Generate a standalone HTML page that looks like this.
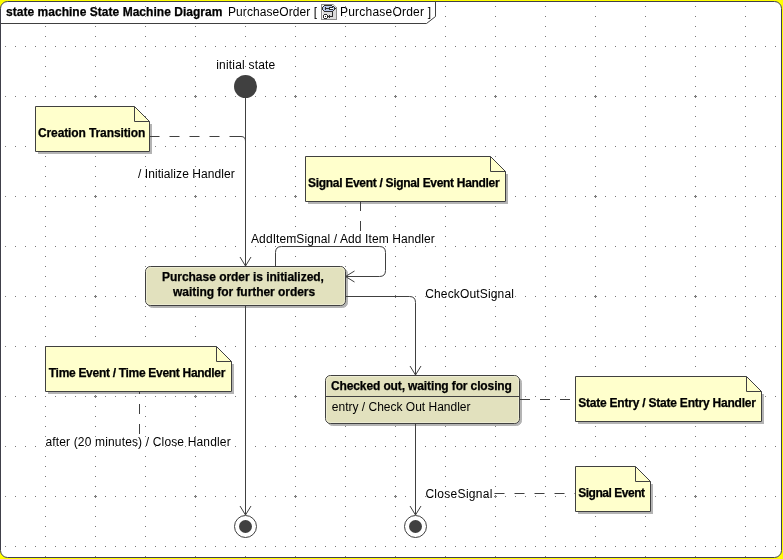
<!DOCTYPE html><html><head><meta charset="utf-8"><style>html,body{margin:0;padding:0;background:#FFFF00;}svg{display:block;will-change:transform}text{font-family:"Liberation Sans",sans-serif;font-size:12px;fill:#000}text[font-weight]{stroke:#000;stroke-width:0.25}</style></head><body><svg width="783" height="559" viewBox="0 0 783 559"><path d="M0.5,8.5A7,7 0 0 1 7.5,1.5H774.5A7,7 0 0 1 781.5,8.5V550.5A7,7 0 0 1 774.5,557.5H7.5A7,7 0 0 1 0.5,550.5Z" fill="#fff" stroke="#40404a"/><path d="M5,46h1v1h-1zM5,96h1v1h-1zM5,146h1v1h-1zM5,196h1v1h-1zM5,246h1v1h-1zM5,296h1v1h-1zM5,346h1v1h-1zM5,396h1v1h-1zM5,446h1v1h-1zM5,496h1v1h-1zM5,546h1v1h-1zM15,46h1v1h-1zM15,96h1v1h-1zM15,146h1v1h-1zM15,196h1v1h-1zM15,246h1v1h-1zM15,296h1v1h-1zM15,346h1v1h-1zM15,396h1v1h-1zM15,446h1v1h-1zM15,496h1v1h-1zM15,546h1v1h-1zM25,46h1v1h-1zM25,96h1v1h-1zM25,146h1v1h-1zM25,196h1v1h-1zM25,246h1v1h-1zM25,296h1v1h-1zM25,346h1v1h-1zM25,396h1v1h-1zM25,446h1v1h-1zM25,496h1v1h-1zM25,546h1v1h-1zM35,46h1v1h-1zM35,96h1v1h-1zM35,146h1v1h-1zM35,196h1v1h-1zM35,246h1v1h-1zM35,296h1v1h-1zM35,346h1v1h-1zM35,396h1v1h-1zM35,446h1v1h-1zM35,496h1v1h-1zM35,546h1v1h-1zM45,6h1v1h-1zM45,16h1v1h-1zM45,26h1v1h-1zM45,36h1v1h-1zM45,46h1v1h-1zM45,56h1v1h-1zM45,66h1v1h-1zM45,76h1v1h-1zM45,86h1v1h-1zM45,96h1v1h-1zM45,106h1v1h-1zM45,116h1v1h-1zM45,126h1v1h-1zM45,136h1v1h-1zM45,146h1v1h-1zM45,156h1v1h-1zM45,166h1v1h-1zM45,176h1v1h-1zM45,186h1v1h-1zM45,196h1v1h-1zM45,206h1v1h-1zM45,216h1v1h-1zM45,226h1v1h-1zM45,236h1v1h-1zM45,246h1v1h-1zM45,256h1v1h-1zM45,266h1v1h-1zM45,276h1v1h-1zM45,286h1v1h-1zM45,296h1v1h-1zM45,306h1v1h-1zM45,316h1v1h-1zM45,326h1v1h-1zM45,336h1v1h-1zM45,346h1v1h-1zM45,356h1v1h-1zM45,366h1v1h-1zM45,376h1v1h-1zM45,386h1v1h-1zM45,396h1v1h-1zM45,406h1v1h-1zM45,416h1v1h-1zM45,426h1v1h-1zM45,436h1v1h-1zM45,446h1v1h-1zM45,456h1v1h-1zM45,466h1v1h-1zM45,476h1v1h-1zM45,486h1v1h-1zM45,496h1v1h-1zM45,506h1v1h-1zM45,516h1v1h-1zM45,526h1v1h-1zM45,536h1v1h-1zM45,546h1v1h-1zM45,556h1v1h-1zM55,46h1v1h-1zM55,96h1v1h-1zM55,146h1v1h-1zM55,196h1v1h-1zM55,246h1v1h-1zM55,296h1v1h-1zM55,346h1v1h-1zM55,396h1v1h-1zM55,446h1v1h-1zM55,496h1v1h-1zM55,546h1v1h-1zM65,46h1v1h-1zM65,96h1v1h-1zM65,146h1v1h-1zM65,196h1v1h-1zM65,246h1v1h-1zM65,296h1v1h-1zM65,346h1v1h-1zM65,396h1v1h-1zM65,446h1v1h-1zM65,496h1v1h-1zM65,546h1v1h-1zM75,46h1v1h-1zM75,96h1v1h-1zM75,146h1v1h-1zM75,196h1v1h-1zM75,246h1v1h-1zM75,296h1v1h-1zM75,346h1v1h-1zM75,396h1v1h-1zM75,446h1v1h-1zM75,496h1v1h-1zM75,546h1v1h-1zM85,46h1v1h-1zM85,96h1v1h-1zM85,146h1v1h-1zM85,196h1v1h-1zM85,246h1v1h-1zM85,296h1v1h-1zM85,346h1v1h-1zM85,396h1v1h-1zM85,446h1v1h-1zM85,496h1v1h-1zM85,546h1v1h-1zM94,96h1v1h-1zM94,196h1v1h-1zM94,296h1v1h-1zM94,396h1v1h-1zM94,496h1v1h-1zM95,6h1v1h-1zM95,16h1v1h-1zM95,26h1v1h-1zM95,36h1v1h-1zM95,46h1v1h-1zM95,56h1v1h-1zM95,66h1v1h-1zM95,76h1v1h-1zM95,86h1v1h-1zM95,95h1v1h-1zM95,96h1v1h-1zM95,97h1v1h-1zM95,106h1v1h-1zM95,116h1v1h-1zM95,126h1v1h-1zM95,136h1v1h-1zM95,146h1v1h-1zM95,156h1v1h-1zM95,166h1v1h-1zM95,176h1v1h-1zM95,186h1v1h-1zM95,195h1v1h-1zM95,196h1v1h-1zM95,197h1v1h-1zM95,206h1v1h-1zM95,216h1v1h-1zM95,226h1v1h-1zM95,236h1v1h-1zM95,246h1v1h-1zM95,256h1v1h-1zM95,266h1v1h-1zM95,276h1v1h-1zM95,286h1v1h-1zM95,295h1v1h-1zM95,296h1v1h-1zM95,297h1v1h-1zM95,306h1v1h-1zM95,316h1v1h-1zM95,326h1v1h-1zM95,336h1v1h-1zM95,346h1v1h-1zM95,356h1v1h-1zM95,366h1v1h-1zM95,376h1v1h-1zM95,386h1v1h-1zM95,395h1v1h-1zM95,396h1v1h-1zM95,397h1v1h-1zM95,406h1v1h-1zM95,416h1v1h-1zM95,426h1v1h-1zM95,436h1v1h-1zM95,446h1v1h-1zM95,456h1v1h-1zM95,466h1v1h-1zM95,476h1v1h-1zM95,486h1v1h-1zM95,495h1v1h-1zM95,496h1v1h-1zM95,497h1v1h-1zM95,506h1v1h-1zM95,516h1v1h-1zM95,526h1v1h-1zM95,536h1v1h-1zM95,546h1v1h-1zM95,556h1v1h-1zM96,96h1v1h-1zM96,196h1v1h-1zM96,296h1v1h-1zM96,396h1v1h-1zM96,496h1v1h-1zM105,46h1v1h-1zM105,96h1v1h-1zM105,146h1v1h-1zM105,196h1v1h-1zM105,246h1v1h-1zM105,296h1v1h-1zM105,346h1v1h-1zM105,396h1v1h-1zM105,446h1v1h-1zM105,496h1v1h-1zM105,546h1v1h-1zM115,46h1v1h-1zM115,96h1v1h-1zM115,146h1v1h-1zM115,196h1v1h-1zM115,246h1v1h-1zM115,296h1v1h-1zM115,346h1v1h-1zM115,396h1v1h-1zM115,446h1v1h-1zM115,496h1v1h-1zM115,546h1v1h-1zM125,46h1v1h-1zM125,96h1v1h-1zM125,146h1v1h-1zM125,196h1v1h-1zM125,246h1v1h-1zM125,296h1v1h-1zM125,346h1v1h-1zM125,396h1v1h-1zM125,446h1v1h-1zM125,496h1v1h-1zM125,546h1v1h-1zM135,46h1v1h-1zM135,96h1v1h-1zM135,146h1v1h-1zM135,196h1v1h-1zM135,246h1v1h-1zM135,296h1v1h-1zM135,346h1v1h-1zM135,396h1v1h-1zM135,446h1v1h-1zM135,496h1v1h-1zM135,546h1v1h-1zM145,6h1v1h-1zM145,16h1v1h-1zM145,26h1v1h-1zM145,36h1v1h-1zM145,46h1v1h-1zM145,56h1v1h-1zM145,66h1v1h-1zM145,76h1v1h-1zM145,86h1v1h-1zM145,96h1v1h-1zM145,106h1v1h-1zM145,116h1v1h-1zM145,126h1v1h-1zM145,136h1v1h-1zM145,146h1v1h-1zM145,156h1v1h-1zM145,166h1v1h-1zM145,176h1v1h-1zM145,186h1v1h-1zM145,196h1v1h-1zM145,206h1v1h-1zM145,216h1v1h-1zM145,226h1v1h-1zM145,236h1v1h-1zM145,246h1v1h-1zM145,256h1v1h-1zM145,266h1v1h-1zM145,276h1v1h-1zM145,286h1v1h-1zM145,296h1v1h-1zM145,306h1v1h-1zM145,316h1v1h-1zM145,326h1v1h-1zM145,336h1v1h-1zM145,346h1v1h-1zM145,356h1v1h-1zM145,366h1v1h-1zM145,376h1v1h-1zM145,386h1v1h-1zM145,396h1v1h-1zM145,406h1v1h-1zM145,416h1v1h-1zM145,426h1v1h-1zM145,436h1v1h-1zM145,446h1v1h-1zM145,456h1v1h-1zM145,466h1v1h-1zM145,476h1v1h-1zM145,486h1v1h-1zM145,496h1v1h-1zM145,506h1v1h-1zM145,516h1v1h-1zM145,526h1v1h-1zM145,536h1v1h-1zM145,546h1v1h-1zM145,556h1v1h-1zM155,46h1v1h-1zM155,96h1v1h-1zM155,146h1v1h-1zM155,196h1v1h-1zM155,246h1v1h-1zM155,296h1v1h-1zM155,346h1v1h-1zM155,396h1v1h-1zM155,446h1v1h-1zM155,496h1v1h-1zM155,546h1v1h-1zM165,46h1v1h-1zM165,96h1v1h-1zM165,146h1v1h-1zM165,196h1v1h-1zM165,246h1v1h-1zM165,296h1v1h-1zM165,346h1v1h-1zM165,396h1v1h-1zM165,446h1v1h-1zM165,496h1v1h-1zM165,546h1v1h-1zM175,46h1v1h-1zM175,96h1v1h-1zM175,146h1v1h-1zM175,196h1v1h-1zM175,246h1v1h-1zM175,296h1v1h-1zM175,346h1v1h-1zM175,396h1v1h-1zM175,446h1v1h-1zM175,496h1v1h-1zM175,546h1v1h-1zM185,46h1v1h-1zM185,96h1v1h-1zM185,146h1v1h-1zM185,196h1v1h-1zM185,246h1v1h-1zM185,296h1v1h-1zM185,346h1v1h-1zM185,396h1v1h-1zM185,446h1v1h-1zM185,496h1v1h-1zM185,546h1v1h-1zM194,96h1v1h-1zM194,196h1v1h-1zM194,296h1v1h-1zM194,396h1v1h-1zM194,496h1v1h-1zM195,6h1v1h-1zM195,16h1v1h-1zM195,26h1v1h-1zM195,36h1v1h-1zM195,46h1v1h-1zM195,56h1v1h-1zM195,66h1v1h-1zM195,76h1v1h-1zM195,86h1v1h-1zM195,95h1v1h-1zM195,96h1v1h-1zM195,97h1v1h-1zM195,106h1v1h-1zM195,116h1v1h-1zM195,126h1v1h-1zM195,136h1v1h-1zM195,146h1v1h-1zM195,156h1v1h-1zM195,166h1v1h-1zM195,176h1v1h-1zM195,186h1v1h-1zM195,195h1v1h-1zM195,196h1v1h-1zM195,197h1v1h-1zM195,206h1v1h-1zM195,216h1v1h-1zM195,226h1v1h-1zM195,236h1v1h-1zM195,246h1v1h-1zM195,256h1v1h-1zM195,266h1v1h-1zM195,276h1v1h-1zM195,286h1v1h-1zM195,295h1v1h-1zM195,296h1v1h-1zM195,297h1v1h-1zM195,306h1v1h-1zM195,316h1v1h-1zM195,326h1v1h-1zM195,336h1v1h-1zM195,346h1v1h-1zM195,356h1v1h-1zM195,366h1v1h-1zM195,376h1v1h-1zM195,386h1v1h-1zM195,395h1v1h-1zM195,396h1v1h-1zM195,397h1v1h-1zM195,406h1v1h-1zM195,416h1v1h-1zM195,426h1v1h-1zM195,436h1v1h-1zM195,446h1v1h-1zM195,456h1v1h-1zM195,466h1v1h-1zM195,476h1v1h-1zM195,486h1v1h-1zM195,495h1v1h-1zM195,496h1v1h-1zM195,497h1v1h-1zM195,506h1v1h-1zM195,516h1v1h-1zM195,526h1v1h-1zM195,536h1v1h-1zM195,546h1v1h-1zM195,556h1v1h-1zM196,96h1v1h-1zM196,196h1v1h-1zM196,296h1v1h-1zM196,396h1v1h-1zM196,496h1v1h-1zM205,46h1v1h-1zM205,96h1v1h-1zM205,146h1v1h-1zM205,196h1v1h-1zM205,246h1v1h-1zM205,296h1v1h-1zM205,346h1v1h-1zM205,396h1v1h-1zM205,446h1v1h-1zM205,496h1v1h-1zM205,546h1v1h-1zM215,46h1v1h-1zM215,96h1v1h-1zM215,146h1v1h-1zM215,196h1v1h-1zM215,246h1v1h-1zM215,296h1v1h-1zM215,346h1v1h-1zM215,396h1v1h-1zM215,446h1v1h-1zM215,496h1v1h-1zM215,546h1v1h-1zM225,46h1v1h-1zM225,96h1v1h-1zM225,146h1v1h-1zM225,196h1v1h-1zM225,246h1v1h-1zM225,296h1v1h-1zM225,346h1v1h-1zM225,396h1v1h-1zM225,446h1v1h-1zM225,496h1v1h-1zM225,546h1v1h-1zM235,46h1v1h-1zM235,96h1v1h-1zM235,146h1v1h-1zM235,196h1v1h-1zM235,246h1v1h-1zM235,296h1v1h-1zM235,346h1v1h-1zM235,396h1v1h-1zM235,446h1v1h-1zM235,496h1v1h-1zM235,546h1v1h-1zM245,6h1v1h-1zM245,16h1v1h-1zM245,26h1v1h-1zM245,36h1v1h-1zM245,46h1v1h-1zM245,56h1v1h-1zM245,66h1v1h-1zM245,76h1v1h-1zM245,86h1v1h-1zM245,96h1v1h-1zM245,106h1v1h-1zM245,116h1v1h-1zM245,126h1v1h-1zM245,136h1v1h-1zM245,146h1v1h-1zM245,156h1v1h-1zM245,166h1v1h-1zM245,176h1v1h-1zM245,186h1v1h-1zM245,196h1v1h-1zM245,206h1v1h-1zM245,216h1v1h-1zM245,226h1v1h-1zM245,236h1v1h-1zM245,246h1v1h-1zM245,256h1v1h-1zM245,266h1v1h-1zM245,276h1v1h-1zM245,286h1v1h-1zM245,296h1v1h-1zM245,306h1v1h-1zM245,316h1v1h-1zM245,326h1v1h-1zM245,336h1v1h-1zM245,346h1v1h-1zM245,356h1v1h-1zM245,366h1v1h-1zM245,376h1v1h-1zM245,386h1v1h-1zM245,396h1v1h-1zM245,406h1v1h-1zM245,416h1v1h-1zM245,426h1v1h-1zM245,436h1v1h-1zM245,446h1v1h-1zM245,456h1v1h-1zM245,466h1v1h-1zM245,476h1v1h-1zM245,486h1v1h-1zM245,496h1v1h-1zM245,506h1v1h-1zM245,516h1v1h-1zM245,526h1v1h-1zM245,536h1v1h-1zM245,546h1v1h-1zM245,556h1v1h-1zM255,46h1v1h-1zM255,96h1v1h-1zM255,146h1v1h-1zM255,196h1v1h-1zM255,246h1v1h-1zM255,296h1v1h-1zM255,346h1v1h-1zM255,396h1v1h-1zM255,446h1v1h-1zM255,496h1v1h-1zM255,546h1v1h-1zM265,46h1v1h-1zM265,96h1v1h-1zM265,146h1v1h-1zM265,196h1v1h-1zM265,246h1v1h-1zM265,296h1v1h-1zM265,346h1v1h-1zM265,396h1v1h-1zM265,446h1v1h-1zM265,496h1v1h-1zM265,546h1v1h-1zM275,46h1v1h-1zM275,96h1v1h-1zM275,146h1v1h-1zM275,196h1v1h-1zM275,246h1v1h-1zM275,296h1v1h-1zM275,346h1v1h-1zM275,396h1v1h-1zM275,446h1v1h-1zM275,496h1v1h-1zM275,546h1v1h-1zM285,46h1v1h-1zM285,96h1v1h-1zM285,146h1v1h-1zM285,196h1v1h-1zM285,246h1v1h-1zM285,296h1v1h-1zM285,346h1v1h-1zM285,396h1v1h-1zM285,446h1v1h-1zM285,496h1v1h-1zM285,546h1v1h-1zM294,96h1v1h-1zM294,196h1v1h-1zM294,296h1v1h-1zM294,396h1v1h-1zM294,496h1v1h-1zM295,6h1v1h-1zM295,16h1v1h-1zM295,26h1v1h-1zM295,36h1v1h-1zM295,46h1v1h-1zM295,56h1v1h-1zM295,66h1v1h-1zM295,76h1v1h-1zM295,86h1v1h-1zM295,95h1v1h-1zM295,96h1v1h-1zM295,97h1v1h-1zM295,106h1v1h-1zM295,116h1v1h-1zM295,126h1v1h-1zM295,136h1v1h-1zM295,146h1v1h-1zM295,156h1v1h-1zM295,166h1v1h-1zM295,176h1v1h-1zM295,186h1v1h-1zM295,195h1v1h-1zM295,196h1v1h-1zM295,197h1v1h-1zM295,206h1v1h-1zM295,216h1v1h-1zM295,226h1v1h-1zM295,236h1v1h-1zM295,246h1v1h-1zM295,256h1v1h-1zM295,266h1v1h-1zM295,276h1v1h-1zM295,286h1v1h-1zM295,295h1v1h-1zM295,296h1v1h-1zM295,297h1v1h-1zM295,306h1v1h-1zM295,316h1v1h-1zM295,326h1v1h-1zM295,336h1v1h-1zM295,346h1v1h-1zM295,356h1v1h-1zM295,366h1v1h-1zM295,376h1v1h-1zM295,386h1v1h-1zM295,395h1v1h-1zM295,396h1v1h-1zM295,397h1v1h-1zM295,406h1v1h-1zM295,416h1v1h-1zM295,426h1v1h-1zM295,436h1v1h-1zM295,446h1v1h-1zM295,456h1v1h-1zM295,466h1v1h-1zM295,476h1v1h-1zM295,486h1v1h-1zM295,495h1v1h-1zM295,496h1v1h-1zM295,497h1v1h-1zM295,506h1v1h-1zM295,516h1v1h-1zM295,526h1v1h-1zM295,536h1v1h-1zM295,546h1v1h-1zM295,556h1v1h-1zM296,96h1v1h-1zM296,196h1v1h-1zM296,296h1v1h-1zM296,396h1v1h-1zM296,496h1v1h-1zM305,46h1v1h-1zM305,96h1v1h-1zM305,146h1v1h-1zM305,196h1v1h-1zM305,246h1v1h-1zM305,296h1v1h-1zM305,346h1v1h-1zM305,396h1v1h-1zM305,446h1v1h-1zM305,496h1v1h-1zM305,546h1v1h-1zM315,46h1v1h-1zM315,96h1v1h-1zM315,146h1v1h-1zM315,196h1v1h-1zM315,246h1v1h-1zM315,296h1v1h-1zM315,346h1v1h-1zM315,396h1v1h-1zM315,446h1v1h-1zM315,496h1v1h-1zM315,546h1v1h-1zM325,46h1v1h-1zM325,96h1v1h-1zM325,146h1v1h-1zM325,196h1v1h-1zM325,246h1v1h-1zM325,296h1v1h-1zM325,346h1v1h-1zM325,396h1v1h-1zM325,446h1v1h-1zM325,496h1v1h-1zM325,546h1v1h-1zM335,46h1v1h-1zM335,96h1v1h-1zM335,146h1v1h-1zM335,196h1v1h-1zM335,246h1v1h-1zM335,296h1v1h-1zM335,346h1v1h-1zM335,396h1v1h-1zM335,446h1v1h-1zM335,496h1v1h-1zM335,546h1v1h-1zM345,6h1v1h-1zM345,16h1v1h-1zM345,26h1v1h-1zM345,36h1v1h-1zM345,46h1v1h-1zM345,56h1v1h-1zM345,66h1v1h-1zM345,76h1v1h-1zM345,86h1v1h-1zM345,96h1v1h-1zM345,106h1v1h-1zM345,116h1v1h-1zM345,126h1v1h-1zM345,136h1v1h-1zM345,146h1v1h-1zM345,156h1v1h-1zM345,166h1v1h-1zM345,176h1v1h-1zM345,186h1v1h-1zM345,196h1v1h-1zM345,206h1v1h-1zM345,216h1v1h-1zM345,226h1v1h-1zM345,236h1v1h-1zM345,246h1v1h-1zM345,256h1v1h-1zM345,266h1v1h-1zM345,276h1v1h-1zM345,286h1v1h-1zM345,296h1v1h-1zM345,306h1v1h-1zM345,316h1v1h-1zM345,326h1v1h-1zM345,336h1v1h-1zM345,346h1v1h-1zM345,356h1v1h-1zM345,366h1v1h-1zM345,376h1v1h-1zM345,386h1v1h-1zM345,396h1v1h-1zM345,406h1v1h-1zM345,416h1v1h-1zM345,426h1v1h-1zM345,436h1v1h-1zM345,446h1v1h-1zM345,456h1v1h-1zM345,466h1v1h-1zM345,476h1v1h-1zM345,486h1v1h-1zM345,496h1v1h-1zM345,506h1v1h-1zM345,516h1v1h-1zM345,526h1v1h-1zM345,536h1v1h-1zM345,546h1v1h-1zM345,556h1v1h-1zM355,46h1v1h-1zM355,96h1v1h-1zM355,146h1v1h-1zM355,196h1v1h-1zM355,246h1v1h-1zM355,296h1v1h-1zM355,346h1v1h-1zM355,396h1v1h-1zM355,446h1v1h-1zM355,496h1v1h-1zM355,546h1v1h-1zM365,46h1v1h-1zM365,96h1v1h-1zM365,146h1v1h-1zM365,196h1v1h-1zM365,246h1v1h-1zM365,296h1v1h-1zM365,346h1v1h-1zM365,396h1v1h-1zM365,446h1v1h-1zM365,496h1v1h-1zM365,546h1v1h-1zM375,46h1v1h-1zM375,96h1v1h-1zM375,146h1v1h-1zM375,196h1v1h-1zM375,246h1v1h-1zM375,296h1v1h-1zM375,346h1v1h-1zM375,396h1v1h-1zM375,446h1v1h-1zM375,496h1v1h-1zM375,546h1v1h-1zM385,46h1v1h-1zM385,96h1v1h-1zM385,146h1v1h-1zM385,196h1v1h-1zM385,246h1v1h-1zM385,296h1v1h-1zM385,346h1v1h-1zM385,396h1v1h-1zM385,446h1v1h-1zM385,496h1v1h-1zM385,546h1v1h-1zM394,96h1v1h-1zM394,196h1v1h-1zM394,296h1v1h-1zM394,396h1v1h-1zM394,496h1v1h-1zM395,6h1v1h-1zM395,16h1v1h-1zM395,26h1v1h-1zM395,36h1v1h-1zM395,46h1v1h-1zM395,56h1v1h-1zM395,66h1v1h-1zM395,76h1v1h-1zM395,86h1v1h-1zM395,95h1v1h-1zM395,96h1v1h-1zM395,97h1v1h-1zM395,106h1v1h-1zM395,116h1v1h-1zM395,126h1v1h-1zM395,136h1v1h-1zM395,146h1v1h-1zM395,156h1v1h-1zM395,166h1v1h-1zM395,176h1v1h-1zM395,186h1v1h-1zM395,195h1v1h-1zM395,196h1v1h-1zM395,197h1v1h-1zM395,206h1v1h-1zM395,216h1v1h-1zM395,226h1v1h-1zM395,236h1v1h-1zM395,246h1v1h-1zM395,256h1v1h-1zM395,266h1v1h-1zM395,276h1v1h-1zM395,286h1v1h-1zM395,295h1v1h-1zM395,296h1v1h-1zM395,297h1v1h-1zM395,306h1v1h-1zM395,316h1v1h-1zM395,326h1v1h-1zM395,336h1v1h-1zM395,346h1v1h-1zM395,356h1v1h-1zM395,366h1v1h-1zM395,376h1v1h-1zM395,386h1v1h-1zM395,395h1v1h-1zM395,396h1v1h-1zM395,397h1v1h-1zM395,406h1v1h-1zM395,416h1v1h-1zM395,426h1v1h-1zM395,436h1v1h-1zM395,446h1v1h-1zM395,456h1v1h-1zM395,466h1v1h-1zM395,476h1v1h-1zM395,486h1v1h-1zM395,495h1v1h-1zM395,496h1v1h-1zM395,497h1v1h-1zM395,506h1v1h-1zM395,516h1v1h-1zM395,526h1v1h-1zM395,536h1v1h-1zM395,546h1v1h-1zM395,556h1v1h-1zM396,96h1v1h-1zM396,196h1v1h-1zM396,296h1v1h-1zM396,396h1v1h-1zM396,496h1v1h-1zM405,46h1v1h-1zM405,96h1v1h-1zM405,146h1v1h-1zM405,196h1v1h-1zM405,246h1v1h-1zM405,296h1v1h-1zM405,346h1v1h-1zM405,396h1v1h-1zM405,446h1v1h-1zM405,496h1v1h-1zM405,546h1v1h-1zM415,46h1v1h-1zM415,96h1v1h-1zM415,146h1v1h-1zM415,196h1v1h-1zM415,246h1v1h-1zM415,296h1v1h-1zM415,346h1v1h-1zM415,396h1v1h-1zM415,446h1v1h-1zM415,496h1v1h-1zM415,546h1v1h-1zM425,46h1v1h-1zM425,96h1v1h-1zM425,146h1v1h-1zM425,196h1v1h-1zM425,246h1v1h-1zM425,296h1v1h-1zM425,346h1v1h-1zM425,396h1v1h-1zM425,446h1v1h-1zM425,496h1v1h-1zM425,546h1v1h-1zM435,46h1v1h-1zM435,96h1v1h-1zM435,146h1v1h-1zM435,196h1v1h-1zM435,246h1v1h-1zM435,296h1v1h-1zM435,346h1v1h-1zM435,396h1v1h-1zM435,446h1v1h-1zM435,496h1v1h-1zM435,546h1v1h-1zM445,6h1v1h-1zM445,16h1v1h-1zM445,26h1v1h-1zM445,36h1v1h-1zM445,46h1v1h-1zM445,56h1v1h-1zM445,66h1v1h-1zM445,76h1v1h-1zM445,86h1v1h-1zM445,96h1v1h-1zM445,106h1v1h-1zM445,116h1v1h-1zM445,126h1v1h-1zM445,136h1v1h-1zM445,146h1v1h-1zM445,156h1v1h-1zM445,166h1v1h-1zM445,176h1v1h-1zM445,186h1v1h-1zM445,196h1v1h-1zM445,206h1v1h-1zM445,216h1v1h-1zM445,226h1v1h-1zM445,236h1v1h-1zM445,246h1v1h-1zM445,256h1v1h-1zM445,266h1v1h-1zM445,276h1v1h-1zM445,286h1v1h-1zM445,296h1v1h-1zM445,306h1v1h-1zM445,316h1v1h-1zM445,326h1v1h-1zM445,336h1v1h-1zM445,346h1v1h-1zM445,356h1v1h-1zM445,366h1v1h-1zM445,376h1v1h-1zM445,386h1v1h-1zM445,396h1v1h-1zM445,406h1v1h-1zM445,416h1v1h-1zM445,426h1v1h-1zM445,436h1v1h-1zM445,446h1v1h-1zM445,456h1v1h-1zM445,466h1v1h-1zM445,476h1v1h-1zM445,486h1v1h-1zM445,496h1v1h-1zM445,506h1v1h-1zM445,516h1v1h-1zM445,526h1v1h-1zM445,536h1v1h-1zM445,546h1v1h-1zM445,556h1v1h-1zM455,46h1v1h-1zM455,96h1v1h-1zM455,146h1v1h-1zM455,196h1v1h-1zM455,246h1v1h-1zM455,296h1v1h-1zM455,346h1v1h-1zM455,396h1v1h-1zM455,446h1v1h-1zM455,496h1v1h-1zM455,546h1v1h-1zM465,46h1v1h-1zM465,96h1v1h-1zM465,146h1v1h-1zM465,196h1v1h-1zM465,246h1v1h-1zM465,296h1v1h-1zM465,346h1v1h-1zM465,396h1v1h-1zM465,446h1v1h-1zM465,496h1v1h-1zM465,546h1v1h-1zM475,46h1v1h-1zM475,96h1v1h-1zM475,146h1v1h-1zM475,196h1v1h-1zM475,246h1v1h-1zM475,296h1v1h-1zM475,346h1v1h-1zM475,396h1v1h-1zM475,446h1v1h-1zM475,496h1v1h-1zM475,546h1v1h-1zM485,46h1v1h-1zM485,96h1v1h-1zM485,146h1v1h-1zM485,196h1v1h-1zM485,246h1v1h-1zM485,296h1v1h-1zM485,346h1v1h-1zM485,396h1v1h-1zM485,446h1v1h-1zM485,496h1v1h-1zM485,546h1v1h-1zM494,96h1v1h-1zM494,196h1v1h-1zM494,296h1v1h-1zM494,396h1v1h-1zM494,496h1v1h-1zM495,6h1v1h-1zM495,16h1v1h-1zM495,26h1v1h-1zM495,36h1v1h-1zM495,46h1v1h-1zM495,56h1v1h-1zM495,66h1v1h-1zM495,76h1v1h-1zM495,86h1v1h-1zM495,95h1v1h-1zM495,96h1v1h-1zM495,97h1v1h-1zM495,106h1v1h-1zM495,116h1v1h-1zM495,126h1v1h-1zM495,136h1v1h-1zM495,146h1v1h-1zM495,156h1v1h-1zM495,166h1v1h-1zM495,176h1v1h-1zM495,186h1v1h-1zM495,195h1v1h-1zM495,196h1v1h-1zM495,197h1v1h-1zM495,206h1v1h-1zM495,216h1v1h-1zM495,226h1v1h-1zM495,236h1v1h-1zM495,246h1v1h-1zM495,256h1v1h-1zM495,266h1v1h-1zM495,276h1v1h-1zM495,286h1v1h-1zM495,295h1v1h-1zM495,296h1v1h-1zM495,297h1v1h-1zM495,306h1v1h-1zM495,316h1v1h-1zM495,326h1v1h-1zM495,336h1v1h-1zM495,346h1v1h-1zM495,356h1v1h-1zM495,366h1v1h-1zM495,376h1v1h-1zM495,386h1v1h-1zM495,395h1v1h-1zM495,396h1v1h-1zM495,397h1v1h-1zM495,406h1v1h-1zM495,416h1v1h-1zM495,426h1v1h-1zM495,436h1v1h-1zM495,446h1v1h-1zM495,456h1v1h-1zM495,466h1v1h-1zM495,476h1v1h-1zM495,486h1v1h-1zM495,495h1v1h-1zM495,496h1v1h-1zM495,497h1v1h-1zM495,506h1v1h-1zM495,516h1v1h-1zM495,526h1v1h-1zM495,536h1v1h-1zM495,546h1v1h-1zM495,556h1v1h-1zM496,96h1v1h-1zM496,196h1v1h-1zM496,296h1v1h-1zM496,396h1v1h-1zM496,496h1v1h-1zM505,46h1v1h-1zM505,96h1v1h-1zM505,146h1v1h-1zM505,196h1v1h-1zM505,246h1v1h-1zM505,296h1v1h-1zM505,346h1v1h-1zM505,396h1v1h-1zM505,446h1v1h-1zM505,496h1v1h-1zM505,546h1v1h-1zM515,46h1v1h-1zM515,96h1v1h-1zM515,146h1v1h-1zM515,196h1v1h-1zM515,246h1v1h-1zM515,296h1v1h-1zM515,346h1v1h-1zM515,396h1v1h-1zM515,446h1v1h-1zM515,496h1v1h-1zM515,546h1v1h-1zM525,46h1v1h-1zM525,96h1v1h-1zM525,146h1v1h-1zM525,196h1v1h-1zM525,246h1v1h-1zM525,296h1v1h-1zM525,346h1v1h-1zM525,396h1v1h-1zM525,446h1v1h-1zM525,496h1v1h-1zM525,546h1v1h-1zM535,46h1v1h-1zM535,96h1v1h-1zM535,146h1v1h-1zM535,196h1v1h-1zM535,246h1v1h-1zM535,296h1v1h-1zM535,346h1v1h-1zM535,396h1v1h-1zM535,446h1v1h-1zM535,496h1v1h-1zM535,546h1v1h-1zM545,6h1v1h-1zM545,16h1v1h-1zM545,26h1v1h-1zM545,36h1v1h-1zM545,46h1v1h-1zM545,56h1v1h-1zM545,66h1v1h-1zM545,76h1v1h-1zM545,86h1v1h-1zM545,96h1v1h-1zM545,106h1v1h-1zM545,116h1v1h-1zM545,126h1v1h-1zM545,136h1v1h-1zM545,146h1v1h-1zM545,156h1v1h-1zM545,166h1v1h-1zM545,176h1v1h-1zM545,186h1v1h-1zM545,196h1v1h-1zM545,206h1v1h-1zM545,216h1v1h-1zM545,226h1v1h-1zM545,236h1v1h-1zM545,246h1v1h-1zM545,256h1v1h-1zM545,266h1v1h-1zM545,276h1v1h-1zM545,286h1v1h-1zM545,296h1v1h-1zM545,306h1v1h-1zM545,316h1v1h-1zM545,326h1v1h-1zM545,336h1v1h-1zM545,346h1v1h-1zM545,356h1v1h-1zM545,366h1v1h-1zM545,376h1v1h-1zM545,386h1v1h-1zM545,396h1v1h-1zM545,406h1v1h-1zM545,416h1v1h-1zM545,426h1v1h-1zM545,436h1v1h-1zM545,446h1v1h-1zM545,456h1v1h-1zM545,466h1v1h-1zM545,476h1v1h-1zM545,486h1v1h-1zM545,496h1v1h-1zM545,506h1v1h-1zM545,516h1v1h-1zM545,526h1v1h-1zM545,536h1v1h-1zM545,546h1v1h-1zM545,556h1v1h-1zM555,46h1v1h-1zM555,96h1v1h-1zM555,146h1v1h-1zM555,196h1v1h-1zM555,246h1v1h-1zM555,296h1v1h-1zM555,346h1v1h-1zM555,396h1v1h-1zM555,446h1v1h-1zM555,496h1v1h-1zM555,546h1v1h-1zM565,46h1v1h-1zM565,96h1v1h-1zM565,146h1v1h-1zM565,196h1v1h-1zM565,246h1v1h-1zM565,296h1v1h-1zM565,346h1v1h-1zM565,396h1v1h-1zM565,446h1v1h-1zM565,496h1v1h-1zM565,546h1v1h-1zM575,46h1v1h-1zM575,96h1v1h-1zM575,146h1v1h-1zM575,196h1v1h-1zM575,246h1v1h-1zM575,296h1v1h-1zM575,346h1v1h-1zM575,396h1v1h-1zM575,446h1v1h-1zM575,496h1v1h-1zM575,546h1v1h-1zM585,46h1v1h-1zM585,96h1v1h-1zM585,146h1v1h-1zM585,196h1v1h-1zM585,246h1v1h-1zM585,296h1v1h-1zM585,346h1v1h-1zM585,396h1v1h-1zM585,446h1v1h-1zM585,496h1v1h-1zM585,546h1v1h-1zM594,96h1v1h-1zM594,196h1v1h-1zM594,296h1v1h-1zM594,396h1v1h-1zM594,496h1v1h-1zM595,6h1v1h-1zM595,16h1v1h-1zM595,26h1v1h-1zM595,36h1v1h-1zM595,46h1v1h-1zM595,56h1v1h-1zM595,66h1v1h-1zM595,76h1v1h-1zM595,86h1v1h-1zM595,95h1v1h-1zM595,96h1v1h-1zM595,97h1v1h-1zM595,106h1v1h-1zM595,116h1v1h-1zM595,126h1v1h-1zM595,136h1v1h-1zM595,146h1v1h-1zM595,156h1v1h-1zM595,166h1v1h-1zM595,176h1v1h-1zM595,186h1v1h-1zM595,195h1v1h-1zM595,196h1v1h-1zM595,197h1v1h-1zM595,206h1v1h-1zM595,216h1v1h-1zM595,226h1v1h-1zM595,236h1v1h-1zM595,246h1v1h-1zM595,256h1v1h-1zM595,266h1v1h-1zM595,276h1v1h-1zM595,286h1v1h-1zM595,295h1v1h-1zM595,296h1v1h-1zM595,297h1v1h-1zM595,306h1v1h-1zM595,316h1v1h-1zM595,326h1v1h-1zM595,336h1v1h-1zM595,346h1v1h-1zM595,356h1v1h-1zM595,366h1v1h-1zM595,376h1v1h-1zM595,386h1v1h-1zM595,395h1v1h-1zM595,396h1v1h-1zM595,397h1v1h-1zM595,406h1v1h-1zM595,416h1v1h-1zM595,426h1v1h-1zM595,436h1v1h-1zM595,446h1v1h-1zM595,456h1v1h-1zM595,466h1v1h-1zM595,476h1v1h-1zM595,486h1v1h-1zM595,495h1v1h-1zM595,496h1v1h-1zM595,497h1v1h-1zM595,506h1v1h-1zM595,516h1v1h-1zM595,526h1v1h-1zM595,536h1v1h-1zM595,546h1v1h-1zM595,556h1v1h-1zM596,96h1v1h-1zM596,196h1v1h-1zM596,296h1v1h-1zM596,396h1v1h-1zM596,496h1v1h-1zM605,46h1v1h-1zM605,96h1v1h-1zM605,146h1v1h-1zM605,196h1v1h-1zM605,246h1v1h-1zM605,296h1v1h-1zM605,346h1v1h-1zM605,396h1v1h-1zM605,446h1v1h-1zM605,496h1v1h-1zM605,546h1v1h-1zM615,46h1v1h-1zM615,96h1v1h-1zM615,146h1v1h-1zM615,196h1v1h-1zM615,246h1v1h-1zM615,296h1v1h-1zM615,346h1v1h-1zM615,396h1v1h-1zM615,446h1v1h-1zM615,496h1v1h-1zM615,546h1v1h-1zM625,46h1v1h-1zM625,96h1v1h-1zM625,146h1v1h-1zM625,196h1v1h-1zM625,246h1v1h-1zM625,296h1v1h-1zM625,346h1v1h-1zM625,396h1v1h-1zM625,446h1v1h-1zM625,496h1v1h-1zM625,546h1v1h-1zM635,46h1v1h-1zM635,96h1v1h-1zM635,146h1v1h-1zM635,196h1v1h-1zM635,246h1v1h-1zM635,296h1v1h-1zM635,346h1v1h-1zM635,396h1v1h-1zM635,446h1v1h-1zM635,496h1v1h-1zM635,546h1v1h-1zM645,6h1v1h-1zM645,16h1v1h-1zM645,26h1v1h-1zM645,36h1v1h-1zM645,46h1v1h-1zM645,56h1v1h-1zM645,66h1v1h-1zM645,76h1v1h-1zM645,86h1v1h-1zM645,96h1v1h-1zM645,106h1v1h-1zM645,116h1v1h-1zM645,126h1v1h-1zM645,136h1v1h-1zM645,146h1v1h-1zM645,156h1v1h-1zM645,166h1v1h-1zM645,176h1v1h-1zM645,186h1v1h-1zM645,196h1v1h-1zM645,206h1v1h-1zM645,216h1v1h-1zM645,226h1v1h-1zM645,236h1v1h-1zM645,246h1v1h-1zM645,256h1v1h-1zM645,266h1v1h-1zM645,276h1v1h-1zM645,286h1v1h-1zM645,296h1v1h-1zM645,306h1v1h-1zM645,316h1v1h-1zM645,326h1v1h-1zM645,336h1v1h-1zM645,346h1v1h-1zM645,356h1v1h-1zM645,366h1v1h-1zM645,376h1v1h-1zM645,386h1v1h-1zM645,396h1v1h-1zM645,406h1v1h-1zM645,416h1v1h-1zM645,426h1v1h-1zM645,436h1v1h-1zM645,446h1v1h-1zM645,456h1v1h-1zM645,466h1v1h-1zM645,476h1v1h-1zM645,486h1v1h-1zM645,496h1v1h-1zM645,506h1v1h-1zM645,516h1v1h-1zM645,526h1v1h-1zM645,536h1v1h-1zM645,546h1v1h-1zM645,556h1v1h-1zM655,46h1v1h-1zM655,96h1v1h-1zM655,146h1v1h-1zM655,196h1v1h-1zM655,246h1v1h-1zM655,296h1v1h-1zM655,346h1v1h-1zM655,396h1v1h-1zM655,446h1v1h-1zM655,496h1v1h-1zM655,546h1v1h-1zM665,46h1v1h-1zM665,96h1v1h-1zM665,146h1v1h-1zM665,196h1v1h-1zM665,246h1v1h-1zM665,296h1v1h-1zM665,346h1v1h-1zM665,396h1v1h-1zM665,446h1v1h-1zM665,496h1v1h-1zM665,546h1v1h-1zM675,46h1v1h-1zM675,96h1v1h-1zM675,146h1v1h-1zM675,196h1v1h-1zM675,246h1v1h-1zM675,296h1v1h-1zM675,346h1v1h-1zM675,396h1v1h-1zM675,446h1v1h-1zM675,496h1v1h-1zM675,546h1v1h-1zM685,46h1v1h-1zM685,96h1v1h-1zM685,146h1v1h-1zM685,196h1v1h-1zM685,246h1v1h-1zM685,296h1v1h-1zM685,346h1v1h-1zM685,396h1v1h-1zM685,446h1v1h-1zM685,496h1v1h-1zM685,546h1v1h-1zM694,96h1v1h-1zM694,196h1v1h-1zM694,296h1v1h-1zM694,396h1v1h-1zM694,496h1v1h-1zM695,6h1v1h-1zM695,16h1v1h-1zM695,26h1v1h-1zM695,36h1v1h-1zM695,46h1v1h-1zM695,56h1v1h-1zM695,66h1v1h-1zM695,76h1v1h-1zM695,86h1v1h-1zM695,95h1v1h-1zM695,96h1v1h-1zM695,97h1v1h-1zM695,106h1v1h-1zM695,116h1v1h-1zM695,126h1v1h-1zM695,136h1v1h-1zM695,146h1v1h-1zM695,156h1v1h-1zM695,166h1v1h-1zM695,176h1v1h-1zM695,186h1v1h-1zM695,195h1v1h-1zM695,196h1v1h-1zM695,197h1v1h-1zM695,206h1v1h-1zM695,216h1v1h-1zM695,226h1v1h-1zM695,236h1v1h-1zM695,246h1v1h-1zM695,256h1v1h-1zM695,266h1v1h-1zM695,276h1v1h-1zM695,286h1v1h-1zM695,295h1v1h-1zM695,296h1v1h-1zM695,297h1v1h-1zM695,306h1v1h-1zM695,316h1v1h-1zM695,326h1v1h-1zM695,336h1v1h-1zM695,346h1v1h-1zM695,356h1v1h-1zM695,366h1v1h-1zM695,376h1v1h-1zM695,386h1v1h-1zM695,395h1v1h-1zM695,396h1v1h-1zM695,397h1v1h-1zM695,406h1v1h-1zM695,416h1v1h-1zM695,426h1v1h-1zM695,436h1v1h-1zM695,446h1v1h-1zM695,456h1v1h-1zM695,466h1v1h-1zM695,476h1v1h-1zM695,486h1v1h-1zM695,495h1v1h-1zM695,496h1v1h-1zM695,497h1v1h-1zM695,506h1v1h-1zM695,516h1v1h-1zM695,526h1v1h-1zM695,536h1v1h-1zM695,546h1v1h-1zM695,556h1v1h-1zM696,96h1v1h-1zM696,196h1v1h-1zM696,296h1v1h-1zM696,396h1v1h-1zM696,496h1v1h-1zM705,46h1v1h-1zM705,96h1v1h-1zM705,146h1v1h-1zM705,196h1v1h-1zM705,246h1v1h-1zM705,296h1v1h-1zM705,346h1v1h-1zM705,396h1v1h-1zM705,446h1v1h-1zM705,496h1v1h-1zM705,546h1v1h-1zM715,46h1v1h-1zM715,96h1v1h-1zM715,146h1v1h-1zM715,196h1v1h-1zM715,246h1v1h-1zM715,296h1v1h-1zM715,346h1v1h-1zM715,396h1v1h-1zM715,446h1v1h-1zM715,496h1v1h-1zM715,546h1v1h-1zM725,46h1v1h-1zM725,96h1v1h-1zM725,146h1v1h-1zM725,196h1v1h-1zM725,246h1v1h-1zM725,296h1v1h-1zM725,346h1v1h-1zM725,396h1v1h-1zM725,446h1v1h-1zM725,496h1v1h-1zM725,546h1v1h-1zM735,46h1v1h-1zM735,96h1v1h-1zM735,146h1v1h-1zM735,196h1v1h-1zM735,246h1v1h-1zM735,296h1v1h-1zM735,346h1v1h-1zM735,396h1v1h-1zM735,446h1v1h-1zM735,496h1v1h-1zM735,546h1v1h-1zM745,6h1v1h-1zM745,16h1v1h-1zM745,26h1v1h-1zM745,36h1v1h-1zM745,46h1v1h-1zM745,56h1v1h-1zM745,66h1v1h-1zM745,76h1v1h-1zM745,86h1v1h-1zM745,96h1v1h-1zM745,106h1v1h-1zM745,116h1v1h-1zM745,126h1v1h-1zM745,136h1v1h-1zM745,146h1v1h-1zM745,156h1v1h-1zM745,166h1v1h-1zM745,176h1v1h-1zM745,186h1v1h-1zM745,196h1v1h-1zM745,206h1v1h-1zM745,216h1v1h-1zM745,226h1v1h-1zM745,236h1v1h-1zM745,246h1v1h-1zM745,256h1v1h-1zM745,266h1v1h-1zM745,276h1v1h-1zM745,286h1v1h-1zM745,296h1v1h-1zM745,306h1v1h-1zM745,316h1v1h-1zM745,326h1v1h-1zM745,336h1v1h-1zM745,346h1v1h-1zM745,356h1v1h-1zM745,366h1v1h-1zM745,376h1v1h-1zM745,386h1v1h-1zM745,396h1v1h-1zM745,406h1v1h-1zM745,416h1v1h-1zM745,426h1v1h-1zM745,436h1v1h-1zM745,446h1v1h-1zM745,456h1v1h-1zM745,466h1v1h-1zM745,476h1v1h-1zM745,486h1v1h-1zM745,496h1v1h-1zM745,506h1v1h-1zM745,516h1v1h-1zM745,526h1v1h-1zM745,536h1v1h-1zM745,546h1v1h-1zM745,556h1v1h-1zM755,46h1v1h-1zM755,96h1v1h-1zM755,146h1v1h-1zM755,196h1v1h-1zM755,246h1v1h-1zM755,296h1v1h-1zM755,346h1v1h-1zM755,396h1v1h-1zM755,446h1v1h-1zM755,496h1v1h-1zM755,546h1v1h-1zM765,46h1v1h-1zM765,96h1v1h-1zM765,146h1v1h-1zM765,196h1v1h-1zM765,246h1v1h-1zM765,296h1v1h-1zM765,346h1v1h-1zM765,396h1v1h-1zM765,446h1v1h-1zM765,496h1v1h-1zM765,546h1v1h-1zM775,46h1v1h-1zM775,96h1v1h-1zM775,146h1v1h-1zM775,196h1v1h-1zM775,246h1v1h-1zM775,296h1v1h-1zM775,346h1v1h-1zM775,396h1v1h-1zM775,446h1v1h-1zM775,496h1v1h-1zM775,546h1v1h-1zM795,6h1v1h-1zM795,16h1v1h-1zM795,26h1v1h-1zM795,36h1v1h-1zM795,46h1v1h-1zM795,56h1v1h-1zM795,66h1v1h-1zM795,76h1v1h-1zM795,86h1v1h-1zM795,96h1v1h-1zM795,106h1v1h-1zM795,116h1v1h-1zM795,126h1v1h-1zM795,136h1v1h-1zM795,146h1v1h-1zM795,156h1v1h-1zM795,166h1v1h-1zM795,176h1v1h-1zM795,186h1v1h-1zM795,196h1v1h-1zM795,206h1v1h-1zM795,216h1v1h-1zM795,226h1v1h-1zM795,236h1v1h-1zM795,246h1v1h-1zM795,256h1v1h-1zM795,266h1v1h-1zM795,276h1v1h-1zM795,286h1v1h-1zM795,296h1v1h-1zM795,306h1v1h-1zM795,316h1v1h-1zM795,326h1v1h-1zM795,336h1v1h-1zM795,346h1v1h-1zM795,356h1v1h-1zM795,366h1v1h-1zM795,376h1v1h-1zM795,386h1v1h-1zM795,396h1v1h-1zM795,406h1v1h-1zM795,416h1v1h-1zM795,426h1v1h-1zM795,436h1v1h-1zM795,446h1v1h-1zM795,456h1v1h-1zM795,466h1v1h-1zM795,476h1v1h-1zM795,486h1v1h-1zM795,496h1v1h-1zM795,506h1v1h-1zM795,516h1v1h-1zM795,526h1v1h-1zM795,536h1v1h-1zM795,546h1v1h-1zM795,556h1v1h-1z" fill="#7a7a7a"/><path d="M0.5,23.5H426.5L435.5,16.5V1.5" fill="none" stroke="#404040"/><g shape-rendering="crispEdges"><path d="M321,4h12v1h-12zM321,5h1v1h-1zM321,6h1v1h-1zM321,7h1v1h-1zM336,7h1v1h-1zM321,8h1v1h-1zM336,8h1v1h-1zM321,9h1v1h-1zM336,9h1v1h-1zM321,10h1v1h-1zM336,10h1v1h-1zM321,11h1v1h-1zM336,11h1v1h-1zM321,12h1v1h-1zM336,12h1v1h-1zM321,13h1v1h-1zM336,13h1v1h-1zM321,14h1v1h-1zM336,14h1v1h-1zM321,15h1v1h-1zM336,15h1v1h-1zM321,16h1v1h-1zM336,16h1v1h-1zM321,17h1v1h-1zM336,17h1v1h-1zM321,18h1v1h-1zM336,18h1v1h-1zM321,19h16v1h-16z" fill="#8c8c8c"/><path d="M333,4h1v1h-1zM334,5h1v1h-1zM335,6h1v1h-1z" fill="#bdbdbd"/><path d="M334,4h3v1h-3zM335,5h2v1h-2zM336,6h1v1h-1zM330,8h3v1h-3zM324,15h3v1h-3zM324,16h1v1h-1zM326,16h1v1h-1zM324,17h3v1h-3z" fill="#ffffff"/><path d="M322,5h2v1h-2zM332,5h1v1h-1zM322,6h1v1h-1zM322,10h1v1h-1zM322,11h1v1h-1zM322,12h1v1h-1zM322,13h1v1h-1zM322,14h1v1h-1zM322,15h1v1h-1zM322,16h1v1h-1zM322,17h1v1h-1zM322,18h1v1h-1z" fill="#f2f2f2"/><path d="M324,5h8v1h-8zM323,6h1v1h-1zM332,6h2v1h-2zM322,7h1v1h-1zM325,7h1v1h-1zM329,7h4v1h-4zM334,7h1v1h-1zM322,8h1v1h-1zM325,8h5v1h-5zM334,8h2v1h-2zM322,9h1v1h-1zM325,9h1v1h-1zM329,9h4v1h-4zM334,9h1v1h-1zM323,10h1v1h-1zM333,10h1v1h-1zM324,11h9v1h-9zM332,12h1v1h-1zM332,13h1v1h-1zM324,14h3v1h-3zM332,14h1v1h-1zM323,15h1v1h-1zM327,15h1v1h-1zM329,15h1v1h-1zM332,15h1v1h-1zM323,16h1v1h-1zM325,16h1v1h-1zM327,16h6v1h-6zM323,17h1v1h-1zM327,17h1v1h-1zM329,17h1v1h-1zM324,18h3v1h-3z" fill="#2e2e2e"/><path d="M333,5h1v1h-1zM334,6h1v1h-1zM335,7h1v1h-1zM335,9h1v1h-1zM334,10h2v1h-2zM323,11h1v1h-1zM333,11h3v1h-3zM323,12h9v1h-9zM333,12h3v1h-3zM323,13h9v1h-9zM333,13h3v1h-3zM323,14h1v1h-1zM327,14h5v1h-5zM333,14h3v1h-3zM328,15h1v1h-1zM330,15h2v1h-2zM333,15h3v1h-3zM333,16h3v1h-3zM328,17h1v1h-1zM330,17h6v1h-6zM323,18h1v1h-1zM327,18h9v1h-9z" fill="#dcdcdc"/><path d="M324,6h8v1h-8zM323,7h2v1h-2zM326,7h3v1h-3zM333,7h1v1h-1zM323,8h2v1h-2zM333,8h1v1h-1zM323,9h2v1h-2zM326,9h3v1h-3zM333,9h1v1h-1zM324,10h9v1h-9z" fill="#b9c9ea"/></g><circle cx="245.5" cy="86.5" r="11.5" fill="#404040"/><path d="M150,124h2V154H38v-2H150z" fill="#B4B4B4"/><path d="M35.5,106.5H134.5L149.5,121.5V151.5H35.5Z" fill="#FFFFCC" stroke="#404040"/><path d="M134.5,106.5V121.5H149.5" fill="none" stroke="#404040"/><path d="M506,174h2V204H308v-2H506z" fill="#B4B4B4"/><path d="M305.5,156.5H490.5L505.5,171.5V201.5H305.5Z" fill="#FFFFCC" stroke="#404040"/><path d="M490.5,156.5V171.5H505.5" fill="none" stroke="#404040"/><rect x="147.5" y="268.5" width="200.0" height="39.0" rx="5" fill="#B4B4B4" stroke="#B4B4B4"/><rect x="145.5" y="266.5" width="200.0" height="39.0" rx="5" fill="#E2E1BE" stroke="#404040"/><rect x="146.5" y="267.5" width="198.0" height="37.0" rx="4" fill="none" stroke="#EDECD2"/><path d="M232,364h2V394H48v-2H232z" fill="#B4B4B4"/><path d="M45.5,346.5H216.5L231.5,361.5V391.5H45.5Z" fill="#FFFFCC" stroke="#404040"/><path d="M216.5,346.5V361.5H231.5" fill="none" stroke="#404040"/><rect x="327.5" y="377.5" width="194.0" height="48.0" rx="5" fill="#B4B4B4" stroke="#B4B4B4"/><rect x="325.5" y="375.5" width="194.0" height="48.0" rx="5" fill="#E2E1BE" stroke="#404040"/><rect x="326.5" y="376.5" width="192.0" height="46.0" rx="4" fill="none" stroke="#EDECD2"/><path d="M325.5,396.5H519.5" stroke="#404040"/><path d="M762,394h2V424H578v-2H762z" fill="#B4B4B4"/><path d="M575.5,376.5H746.5L761.5,391.5V421.5H575.5Z" fill="#FFFFCC" stroke="#404040"/><path d="M746.5,376.5V391.5H761.5" fill="none" stroke="#404040"/><path d="M651,484h2V514H578v-2H651z" fill="#B4B4B4"/><path d="M575.5,466.5H635.5L650.5,481.5V511.5H575.5Z" fill="#FFFFCC" stroke="#404040"/><path d="M635.5,466.5V481.5H650.5" fill="none" stroke="#404040"/><circle cx="245.5" cy="526.5" r="11" fill="#fff" stroke="#404040"/><circle cx="245.5" cy="526.5" r="6.5" fill="#404040"/><circle cx="415.5" cy="526.5" r="11" fill="#fff" stroke="#404040"/><circle cx="415.5" cy="526.5" r="6.5" fill="#404040"/><path d="M245.5,97V266" stroke="#404040"/><path d="M240.0,257L245.5,266L251.0,257" fill="none" stroke="#404040"/><path d="M149.5,136.5H159.5M169.5,136.5H179.5M189.5,136.5H199.5M209.5,136.5H219.5M229.5,136.5H241Q245.5,136.5 245.5,141" fill="none" stroke="#404040"/><path d="M360.5,201V231" stroke="#404040" stroke-dasharray="10,10"/><path d="M275.5,266V252.5Q275.5,246.5 281.5,246.5H379.5Q385.5,246.5 385.5,252.5V270.5Q385.5,276.5 379.5,276.5H345.5" fill="none" stroke="#404040"/><path d="M354.5,271.0L345.5,276.5L354.5,282.0" fill="none" stroke="#404040"/><path d="M345.5,296.5H409.5Q415.5,296.5 415.5,302.5V375" fill="none" stroke="#404040"/><path d="M410.0,366L415.5,375L421.0,366" fill="none" stroke="#404040"/><path d="M245.5,305.5V515" stroke="#404040"/><path d="M240.0,506L245.5,515L251.0,506" fill="none" stroke="#404040"/><path d="M139.5,392V436" stroke="#404040" stroke-dasharray="10,10" stroke-dashoffset="8"/><path d="M520,399.5H575" stroke="#404040" stroke-dasharray="10,10"/><path d="M415.5,423.5V515" stroke="#404040"/><path d="M410.0,506L415.5,515L421.0,506" fill="none" stroke="#404040"/><path d="M494.5,493.5H575" stroke="#404040" stroke-dasharray="10,10"/><text x="6" y="16" font-weight="bold" textLength="216.42" lengthAdjust="spacing">state machine State Machine Diagram</text><text x="228" y="16" textLength="89.05" lengthAdjust="spacing">PurchaseOrder [</text><text x="340" y="16" textLength="91.05" lengthAdjust="spacing">PurchaseOrder ]</text><text x="216.2" y="69" textLength="59.10" lengthAdjust="spacing">initial state</text><text x="138" y="178" textLength="96.79" lengthAdjust="spacing">/ Initialize Handler</text><text x="38" y="137" font-weight="bold" textLength="107.36" lengthAdjust="spacing">Creation Transition</text><text x="308" y="187" font-weight="bold" textLength="191.66" lengthAdjust="spacing">Signal Event / Signal Event Handler</text><text x="251" y="243" textLength="183.78" lengthAdjust="spacing">AddItemSignal / Add Item Handler</text><text x="162" y="281" font-weight="bold" textLength="161.93" lengthAdjust="spacing">Purchase order is initialized,</text><text x="173" y="296" font-weight="bold" textLength="142.14" lengthAdjust="spacing">waiting for further orders</text><text x="425.2" y="298" textLength="88.72" lengthAdjust="spacing">CheckOutSignal</text><text x="48.8" y="377" font-weight="bold" textLength="176.62" lengthAdjust="spacing">Time Event / Time Event Handler</text><text x="45.4" y="446" textLength="185.28" lengthAdjust="spacing">after (20 minutes) / Close Handler</text><text x="331" y="390" font-weight="bold" textLength="180.89" lengthAdjust="spacing">Checked out, waiting for closing</text><text x="331.8" y="411" textLength="138.73" lengthAdjust="spacing">entry / Check Out Handler</text><text x="578.2" y="407" font-weight="bold" textLength="177.72" lengthAdjust="spacing">State Entry / State Entry Handler</text><text x="425.4" y="498" textLength="67.05" lengthAdjust="spacing">CloseSignal</text><text x="578.2" y="497" font-weight="bold" textLength="66.83" lengthAdjust="spacing">Signal Event</text></svg></body></html>
